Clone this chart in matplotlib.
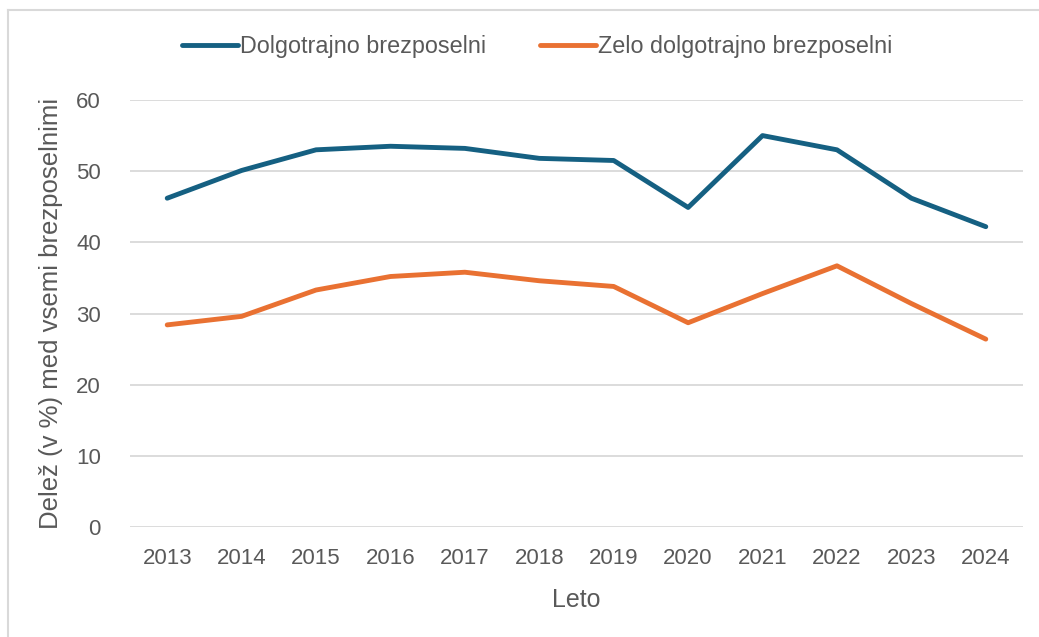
import matplotlib
matplotlib.use("Agg")
import matplotlib.pyplot as plt
from matplotlib.lines import Line2D

years = ["2013", "2014", "2015", "2016", "2017", "2018", "2019", "2020", "2021", "2022", "2023", "2024"]
dolgotrajno = [46.2, 50.1, 53.0, 53.5, 53.2, 51.8, 51.5, 44.9, 55.0, 53.0, 46.2, 42.2]
zelo_dolgotrajno = [28.4, 29.6, 33.3, 35.2, 35.8, 34.6, 33.8, 28.7, 32.8, 36.7, 31.4, 26.4]
yticks = [0, 10, 20, 30, 40, 50, 60]

plt.rcParams['font.family'] = ['Liberation Sans', 'DejaVu Sans']
txt = '#595959'
grid = '#D9D9D9'

W, H = 1039, 637
fig = plt.figure(figsize=(W / 100, H / 100), dpi=100)
ax = fig.add_axes([130 / W, (H - 527) / H, (1023 - 130) / W, (527 - 100) / H])

x = list(range(len(years)))
ax.plot(x, dolgotrajno, color='#156082', lw=3.5, solid_capstyle='round', solid_joinstyle='round',
        label='Dolgotrajno brezposelni', zorder=3)
ax.plot(x, zelo_dolgotrajno, color='#E97132', lw=3.5, solid_capstyle='round', solid_joinstyle='round',
        label='Zelo dolgotrajno brezposelni', zorder=3)

ax.set_xlim(-0.5, len(years) - 0.5)
ax.set_ylim(0, 60)
ax.set_yticks(yticks)
ax.set_xticks(x)
ax.set_xticklabels(years)
for s in ax.spines.values():
    s.set_visible(False)
ax.grid(axis='y', color=grid, lw=1.3, zorder=0)
ax.tick_params(axis='both', length=0, labelsize=16, colors=txt)
ax.tick_params(axis='y', pad=21)
ax.tick_params(axis='x', pad=15)
ax.set_xlabel('Leto', fontsize=18, color=txt, labelpad=14)
ax.set_ylabel('Delež (v %) med vsemi brezposelnimi', fontsize=18.5, color=txt, labelpad=9)

handles = [Line2D([0], [0], color='#156082', lw=3.5, solid_capstyle='round'),
           Line2D([0], [0], color='#E97132', lw=3.5, solid_capstyle='round')]
fig.legend(handles, ['Dolgotrajno brezposelni', 'Zelo dolgotrajno brezposelni'],
           loc='center', bbox_to_anchor=(537 / W, (H - 47) / H), ncol=2, frameon=False,
           fontsize=16.8, labelcolor=txt, handlelength=2.4, handletextpad=0.1, columnspacing=2.3)

# outer chart border (left and top visible)
fig.add_artist(Line2D([7.5 / W, 7.5 / W], [0, (H - 9.5) / H], color=grid, lw=1.5, transform=fig.transFigure))
fig.add_artist(Line2D([7.5 / W, 1], [(H - 9.5) / H, (H - 9.5) / H], color=grid, lw=1.5, transform=fig.transFigure))

fig.savefig('out.png', dpi=100)
